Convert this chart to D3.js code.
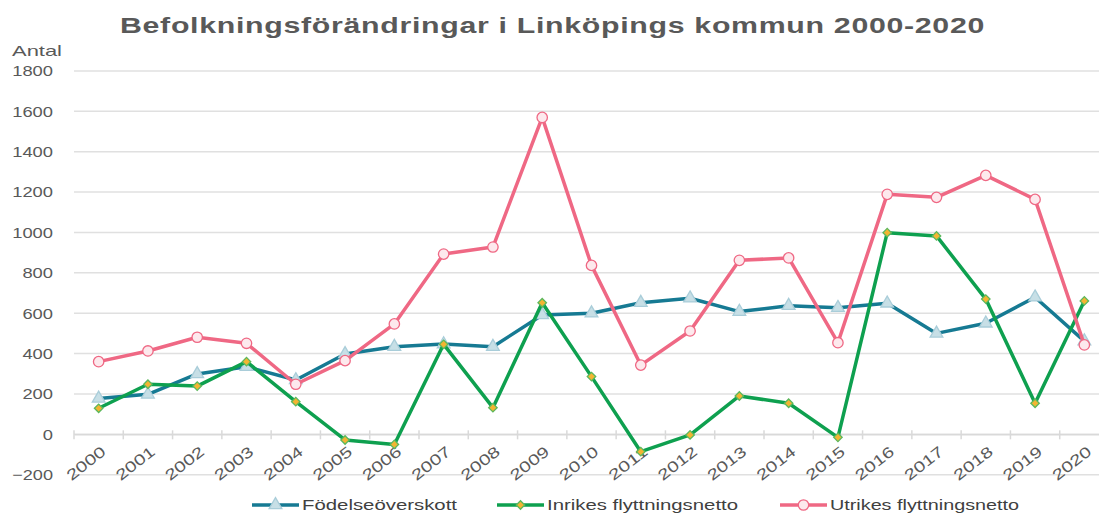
<!DOCTYPE html>
<html><head><meta charset="utf-8">
<script src="https://cdn.jsdelivr.net/npm/d3@7"></script>
<style>
html,body{margin:0;padding:0;background:#fff;}
svg{display:block;font-family:"Liberation Sans",Arial,sans-serif;}
</style></head>
<body><svg id="c" width="1099" height="515"></svg>
<script>
const years = ["2000","2001","2002","2003","2004","2005","2006","2007","2008","2009","2010","2011","2012","2013","2014","2015","2016","2017","2018","2019","2020"];
const fodelse = [178,198,299,335,269,398,434,447,434,591,600,652,674,608,637,627,649,500,550,679,462];
const inrikes = [129,248,239,360,162,-28,-50,446,132,652,286,-86,-3,190,154,-15,999,983,670,154,661];
const utrikes = [360,413,481,451,248,365,547,893,928,1570,837,343,512,862,874,454,1189,1174,1283,1164,443];
const yTicks = [-200,0,200,400,600,800,1000,1200,1400,1600,1800];
const seriesNames = ["Födelseöverskott","Inrikes flyttningsnetto","Utrikes flyttningsnetto"];

const svg = d3.select("#c");
const x = d3.scaleBand().domain(years).range([74,1109]);
const y = d3.scaleLinear().domain([-200,1800]).range([474.7,71]);
const cx = d => x(d) + x.bandwidth()/2;

// title
svg.append("text").attr("x",120).attr("y",33).attr("textLength",865).attr("lengthAdjust","spacingAndGlyphs")
  .attr("font-size",22).attr("font-weight","bold").attr("fill","#595959").attr("letter-spacing","0.5")
  .text("Befolkningsförändringar i Linköpings kommun 2000-2020");
svg.append("text").attr("x",12).attr("y",56).attr("font-size",15).attr("fill","#595959")
  .attr("textLength",50).attr("lengthAdjust","spacingAndGlyphs").text("Antal");

// gridlines
svg.append("g").selectAll("line").data(yTicks).join("line")
  .attr("x1",74).attr("x2",1109).attr("y1",d=>y(d)).attr("y2",d=>y(d))
  .attr("stroke","#e0e0e0").attr("stroke-width",1.5);

// y labels
const yAxis = d3.axisLeft(y).tickValues(yTicks).tickSize(0).tickPadding(0).tickFormat(d3.format("d"));
const ga = svg.append("g").attr("transform","translate(53,0)").call(yAxis);
ga.select(".domain").remove();
ga.selectAll("text").attr("font-size",15).attr("fill","#595959")
  .attr("font-family","Liberation Sans, Arial, sans-serif")
  .attr("textLength",function(){return this.textContent.replace("-","").length*10.2 + (this.textContent.startsWith("-")?6:0);})
  .attr("lengthAdjust","spacingAndGlyphs");

// x axis at 0
const xa = d3.axisBottom(x).tickSize(0);
const gx = svg.append("g").attr("transform",`translate(0,${y(0)})`).call(xa);
gx.select(".domain").attr("stroke","#d9d9d9").attr("stroke-width",1.5);
gx.selectAll(".tick line").remove();
gx.selectAll(".tick text")
  .attr("font-size",15).attr("fill","#595959")
  .attr("font-family","Liberation Sans, Arial, sans-serif")
  .attr("textLength",45).attr("lengthAdjust","spacingAndGlyphs")
  .attr("text-anchor","end").attr("dy","0.35em").attr("x",0).attr("y",0)
  .attr("transform","translate(5,15) rotate(-38)");
// category boundary ticks
svg.append("g").selectAll("line").data(years.concat(["end"])).join("line")
  .attr("x1",(d,i)=>74+i*x.bandwidth()).attr("x2",(d,i)=>74+i*x.bandwidth())
  .attr("y1",y(0)-4).attr("y2",y(0)+5).attr("stroke","#d9d9d9").attr("stroke-width",1.5);

const series = [
  {name:seriesNames[0], values:fodelse, color:"#167a93", mk:"tri", fill:"#c7dfe6", mstroke:"#a9cdd9", rot:0, len:155},
  {name:seriesNames[1], values:inrikes, color:"#0ea04f", mk:"dia", fill:"#f3b532", mstroke:"#5cb85c", rot:45, len:191},
  {name:seriesNames[2], values:utrikes, color:"#ef6884", mk:"cir", fill:"#fde9ed", mstroke:"#ef6884", rot:0, len:189}
];
const line = d3.line().x((d,i)=>cx(years[i])).y(d=>y(d));
const sym = {
  tri: d3.symbol().type(d3.symbolTriangle).size(70),
  dia: d3.symbol().type(d3.symbolSquare).size(36),
  cir: d3.symbol().type(d3.symbolCircle).size(85)
};
series.forEach(s=>{
  svg.append("path").datum(s.values).attr("d",line).attr("fill","none")
    .attr("stroke",s.color).attr("stroke-width",3.5).attr("stroke-linejoin","round");
  svg.append("g").selectAll("path").data(s.values).join("path")
    .attr("d",sym[s.mk]()).attr("transform",(d,i)=>`translate(${cx(years[i])},${y(d)}) rotate(${s.rot})`)
    .attr("fill",s.fill).attr("stroke",s.mstroke).attr("stroke-width",1.3);
});

// legend
const legX = [252,497,780];
series.forEach((s,i)=>{
  const g = svg.append("g").attr("transform",`translate(${legX[i]},505)`);
  g.append("line").attr("x1",0).attr("x2",47).attr("stroke",s.color).attr("stroke-width",3.5);
  g.append("path").attr("d",sym[s.mk]()).attr("transform",`translate(23.5,0) rotate(${s.rot})`)
    .attr("fill",s.fill).attr("stroke",s.mstroke).attr("stroke-width",1.3);
  g.append("text").attr("x",50).attr("dy","0.35em").attr("font-size",15).attr("fill","#404040")
    .attr("textLength",s.len).attr("lengthAdjust","spacingAndGlyphs").text(s.name);
});
</script></body></html>
